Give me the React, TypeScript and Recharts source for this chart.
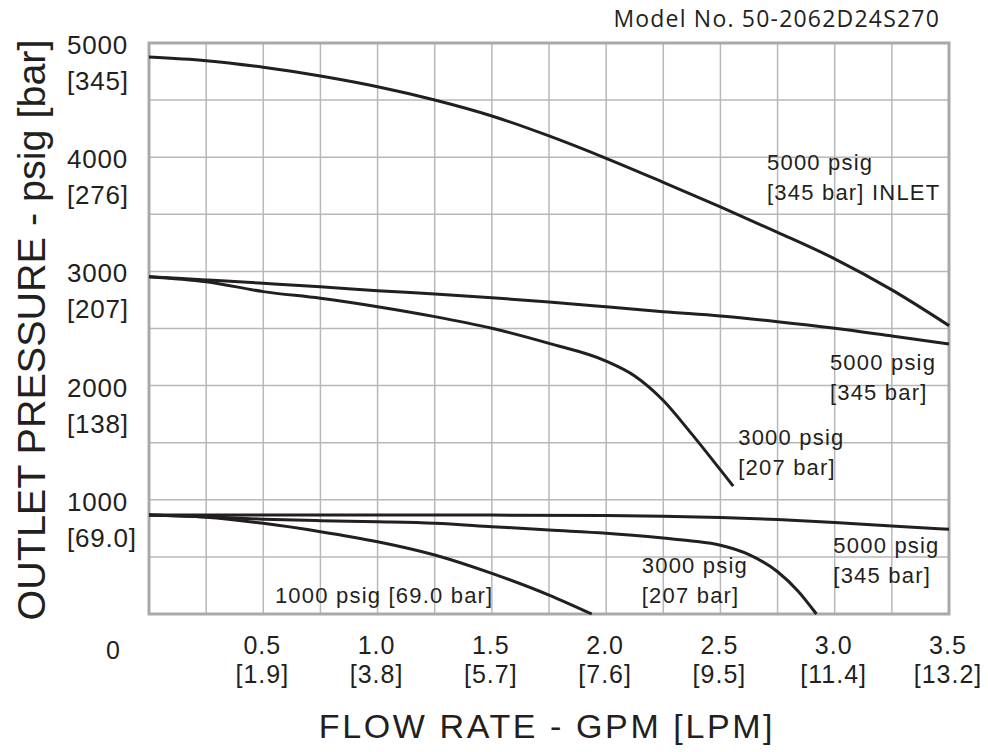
import React from "react";
import {
  LineChart,
  Line,
  XAxis,
  YAxis,
  CartesianGrid,
  ReferenceArea,
  ReferenceDot,
} from "recharts";

// flow axis (GPM) and its labels
const flowTicks = [0, 0.25, 0.5, 0.75, 1, 1.25, 1.5, 1.75, 2, 2.25, 2.5, 2.75, 3, 3.25, 3.5];
const gpmValues = [0.5, 1, 1.5, 2, 2.5, 3, 3.5];
const gpmLabels = ["0.5", "1.0", "1.5", "2.0", "2.5", "3.0", "3.5"];
const lpmLabels = ["[1.9]", "[3.8]", "[5.7]", "[7.6]", "[9.5]", "[11.4]", "[13.2]"];

// pressure axis (psig) and its labels
const pressureTicks = [0, 500, 1000, 1500, 2000, 2500, 3000, 3500, 4000, 4500, 5000];
const psigValues = [1000, 2000, 3000, 4000, 5000];
const psigLabels = ["1000", "2000", "3000", "4000", "5000"];
const barLabels = ["[69.0]", "[138]", "[207]", "[276]", "[345]"];

// 5000 psig inlet curve
const inletFlow = [0, 0.25, 0.5, 0.75, 1, 1.25, 1.5, 1.75, 2, 2.25, 2.5, 2.75, 3, 3.25, 3.5];
const inletPressure = [4877, 4845, 4787, 4711, 4617, 4501, 4361, 4186, 3990, 3780, 3565, 3342, 3110, 2838, 2525];

// 5000 psig setting, upper
const high5000Flow = [0, 0.25, 0.5, 0.75, 1, 1.25, 1.5, 1.75, 2, 2.25, 2.5, 2.75, 3, 3.25, 3.5];
const high5000Pressure = [2954, 2925, 2896, 2866, 2831, 2802, 2770, 2732, 2690, 2647, 2610, 2560, 2502, 2434, 2364];

// 3000 psig setting, upper
const high3000Flow = [0, 0.25, 0.5, 0.75, 1, 1.25, 1.5, 1.75, 2, 2.125, 2.25, 2.375, 2.5, 2.556];
const high3000Pressure = [2954, 2910, 2823, 2765, 2691, 2604, 2502, 2370, 2215, 2085, 1870, 1575, 1262, 1120];

// 5000 psig setting, lower
const low5000Flow = [0, 0.5, 1, 1.5, 2, 2.25, 2.5, 2.75, 3, 3.25, 3.5];
const low5000Pressure = [867, 867, 867, 866, 863, 856, 844, 827, 802, 771, 742];

// 3000 psig setting, lower
const low3000Flow = [0, 0.25, 0.5, 0.75, 1, 1.25, 1.5, 1.75, 2, 2.25, 2.375, 2.5, 2.625, 2.75, 2.84, 2.92];
const low3000Pressure = [867, 852, 830, 817, 808, 795, 765, 735, 707, 665, 640, 602, 520, 370, 200, 0];

// 1000 psig setting
const low1000Flow = [0, 0.25, 0.5, 0.75, 1, 1.25, 1.5, 1.75, 1.937];
const low1000Pressure = [867, 847, 794, 721, 633, 517, 356, 166, 0];

const toPoints = (xs: number[], ys: number[]) => xs.map((x, i) => ({ x, y: ys[i] }));

const curves = [
  toPoints(inletFlow, inletPressure),
  toPoints(high5000Flow, high5000Pressure),
  toPoints(high3000Flow, high3000Pressure),
  toPoints(low5000Flow, low5000Pressure),
  toPoints(low3000Flow, low3000Pressure),
  toPoints(low1000Flow, low1000Pressure),
];

const FONT = "'Liberation Sans', Arial, Helvetica, sans-serif";
const INK = "#231f20";
const PLOT_BOTTOM = 614;

function XTick(props: any) {
  const { x, payload } = props;
  if (payload.value === 0) {
    return (
      <text x={x - 36} y={659} textAnchor="middle" fontSize={25} fill={INK} fontFamily={FONT}>
        0
      </text>
    );
  }
  const i = gpmValues.indexOf(payload.value);
  if (i < 0) return <g />;
  return (
    <g>
      <text x={x - 1} y={PLOT_BOTTOM + 40} textAnchor="middle" fontSize={25} letterSpacing={1} fill={INK} fontFamily={FONT}>
        {gpmLabels[i]}
      </text>
      <text x={x - 1} y={PLOT_BOTTOM + 69} textAnchor="middle" fontSize={25} letterSpacing={1} fill={INK} fontFamily={FONT}>
        {lpmLabels[i]}
      </text>
    </g>
  );
}

function YTick(props: any) {
  const { y, payload } = props;
  const i = psigValues.indexOf(payload.value);
  if (i < 0) return <g />;
  return (
    <g>
      <text x={67} y={y + 11} textAnchor="start" fontSize={26} letterSpacing={0.8} fill={INK} fontFamily={FONT}>
        {psigLabels[i]}
      </text>
      <text x={67} y={y + 47} textAnchor="start" fontSize={26} letterSpacing={0.8} fill={INK} fontFamily={FONT}>
        {barLabels[i]}
      </text>
    </g>
  );
}

// multi-line note anchored at a data point (start of first baseline)
const note = (lines: string[]) => (p: any) => (
  <text x={p.cx} y={p.cy} fontSize={22} letterSpacing={1.2} fill={INK} fontFamily={FONT}>
    {lines.map((l, i) => (
      <tspan key={i} x={p.cx} dy={i === 0 ? 0 : 30}>
        {l}
      </tspan>
    ))}
  </text>
);

export default function App() {
  return (
    <div style={{ position: "absolute", left: 0, top: 0, width: 988, height: 752, background: "#fff" }}>
      <LineChart width={988} height={752} margin={{ top: 43, right: 39, bottom: 78, left: 67 }}>
        <CartesianGrid stroke="#b7b8bb" strokeWidth={1.5} />
        <XAxis
          dataKey="x"
          type="number"
          domain={[0, 3.5]}
          ticks={flowTicks}
          interval={0}
          height={60}
          axisLine={false}
          tickLine={false}
          tick={<XTick />}
          allowDuplicatedCategory={false}
          label={{
            content: () => (
              <text x={547} y={738} textAnchor="middle" fontSize={34} letterSpacing={2.6} fill={INK} fontFamily={FONT}>
                FLOW RATE - GPM [LPM]
              </text>
            ),
          }}
        />
        <YAxis
          dataKey="y"
          type="number"
          domain={[0, 5000]}
          ticks={pressureTicks}
          interval={0}
          width={82}
          axisLine={false}
          tickLine={false}
          tick={<YTick />}
          label={{
            content: () => (
              <text
                x={45}
                y={330}
                textAnchor="middle"
                fontSize={39.5}
                fill={INK}
                fontFamily={FONT}
                transform="rotate(-90 45 330)"
              >
                OUTLET PRESSURE - psig [bar]
              </text>
            ),
          }}
        />
        <ReferenceArea x1={0} x2={3.5} y1={0} y2={5000} fill="none" stroke="#a7a9ac" strokeWidth={3} />
        {curves.map((data, i) => (
          <Line
            key={i}
            data={data}
            dataKey="y"
            type="monotone"
            stroke={INK}
            strokeWidth={3}
            dot={false}
            isAnimationActive={false}
          />
        ))}
        <ReferenceDot x={2.704} y={3891} r={0} shape={note(["5000 psig", "[345 bar] INLET"])} />
        <ReferenceDot x={2.979} y={2137} r={0} shape={note(["5000 psig", "[345 bar]"])} />
        <ReferenceDot x={2.578} y={1480} r={0} shape={note(["3000 psig", "[207 bar]"])} />
        <ReferenceDot x={2.994} y={532} r={0} shape={note(["5000 psig", "[345 bar]"])} />
        <ReferenceDot x={2.156} y={356} r={0} shape={note(["3000 psig", "[207 bar]"])} />
        <ReferenceDot x={0.551} y={94} r={0} shape={note(["1000 psig [69.0 bar]"])} />
        <text x={940} y={27} textAnchor="end" fontSize={23} letterSpacing={1.2} fill={INK} fontFamily="'Open Sans', 'Noto Sans', sans-serif">
          Model No. 50-2062D24S270
        </text>
      </LineChart>
    </div>
  );
}
